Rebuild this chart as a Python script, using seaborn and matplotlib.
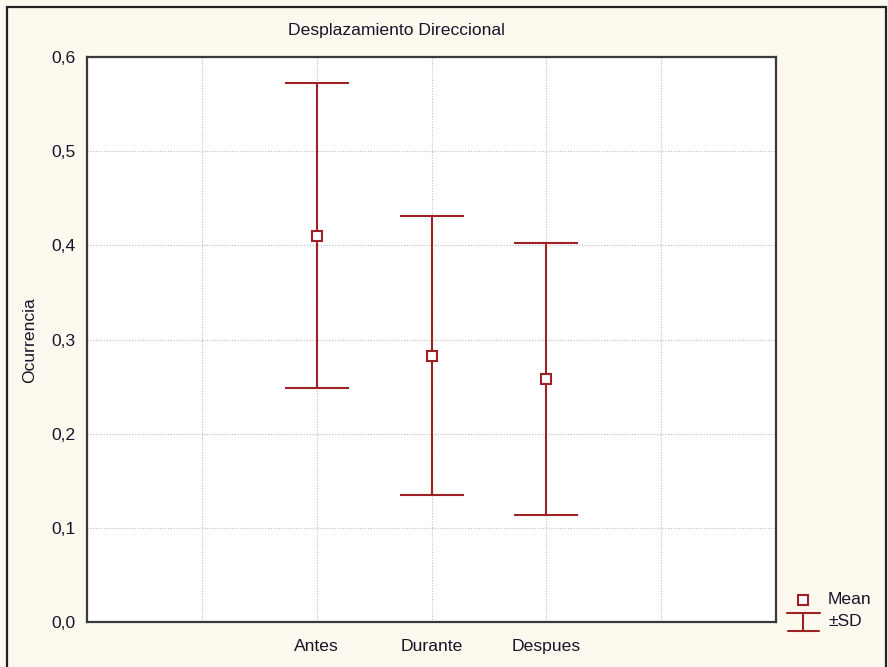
import matplotlib
matplotlib.use("Agg")
import matplotlib.pyplot as plt
from matplotlib.lines import Line2D
from matplotlib.patches import Rectangle
import seaborn as sns
import pandas as pd

# Occurrence of directional displacement per period: mean and standard deviation
periods = ["Antes", "Durante", "Despues"]
means = [0.410, 0.283, 0.258]
sds = [0.162, 0.148, 0.144]
y_ticks = [0.0, 0.1, 0.2, 0.3, 0.4, 0.5, 0.6]
y_tick_labels = ["0,0", "0,1", "0,2", "0,3", "0,4", "0,5", "0,6"]

RED = "#9E2126"
TEXT = "#15152a"
BG = "#FEF9EE"
FS = 12.6

sns.set_style("white")
plt.rcParams["font.family"] = ["Liberation Sans", "DejaVu Sans"]
plt.rcParams["font.size"] = FS

W, H = 888, 667
fig = plt.figure(figsize=(W / 100, H / 100), dpi=100, facecolor=BG)
ax = fig.add_axes([87 / W, 1 - 622 / H, (776 - 87) / W, (622 - 57) / H])
ax.set_facecolor("white")

df = pd.DataFrame({"periodo": periods, "media": means, "sd": sds})

# ±SD whiskers
ax.errorbar(x=range(len(periods)), y=df["media"], yerr=df["sd"], fmt="none",
            ecolor=RED, elinewidth=1.5, capsize=23, capthick=1.5, zorder=3)

# Mean markers
sns.pointplot(data=df, x="periodo", y="media", order=periods, errorbar=None,
              markers="s", linestyles="none", color=RED, ax=ax,
              markersize=7, markerfacecolor="white", markeredgecolor=RED,
              markeredgewidth=1.5, zorder=5)

# Axes, grid and ticks
ax.set_xlim(-2, 4)
ax.set_ylim(0, 0.6)
ax.set_xticks([-1, 0, 1, 2, 3])
ax.set_xticklabels(["", "Antes", "Durante", "Despues", ""], color=TEXT)
ax.set_yticks(y_ticks)
ax.set_yticklabels(y_tick_labels, color=TEXT)
ax.tick_params(axis="both", direction="in", length=3, width=1, color="#333333",
               labelsize=FS)
ax.tick_params(axis="x", pad=12)
ax.tick_params(axis="y", pad=8)
ax.grid(True, linestyle=(0, (1, 1.5)), color="#bdbdbd", linewidth=0.8)
ax.set_axisbelow(True)
for s in ax.spines.values():
    s.set_color("#3a3a3a")
    s.set_linewidth(1.6)
ax.set_xlabel("")
ax.set_ylabel("")

# Title and y label
fig.text(396 / W, 1 - 31 / H, "Desplazamiento Direccional", ha="center",
         va="center", fontsize=FS, color=TEXT)
fig.text(30 / W, 1 - 340 / H, "Ocurrencia", ha="center", va="center",
         rotation=90, fontsize=FS, color=TEXT)

# Legend
def px(x, y):
    return x / W, 1 - y / H

fig.add_artist(Line2D(*zip(px(803, 600)), marker="s", markersize=7,
                      markerfacecolor="white", markeredgecolor=RED,
                      markeredgewidth=1.5, linestyle="none",
                      transform=fig.transFigure))
for seg in [((787, 613), (820, 613)), ((803, 613), (803, 631)),
            ((788, 631), (819, 631))]:
    (x0, y0), (x1, y1) = px(*seg[0]), px(*seg[1])
    fig.add_artist(Line2D([x0, x1], [y0, y1], color=RED, linewidth=1.5,
                          transform=fig.transFigure))
fig.text(*px(828, 600), "Mean", ha="left", va="center", fontsize=FS, color=TEXT)
fig.text(*px(828, 621), "±SD", ha="left", va="center", fontsize=FS, color=TEXT)

# Outer frame
fig.add_artist(Rectangle((6.5 / W, -0.05), (886 - 6.5) / W, 1.05 - 6.5 / H,
                         fill=False, edgecolor="#222222", linewidth=1.6,
                         transform=fig.transFigure))

fig.savefig("out.png", dpi=100, facecolor=BG)
